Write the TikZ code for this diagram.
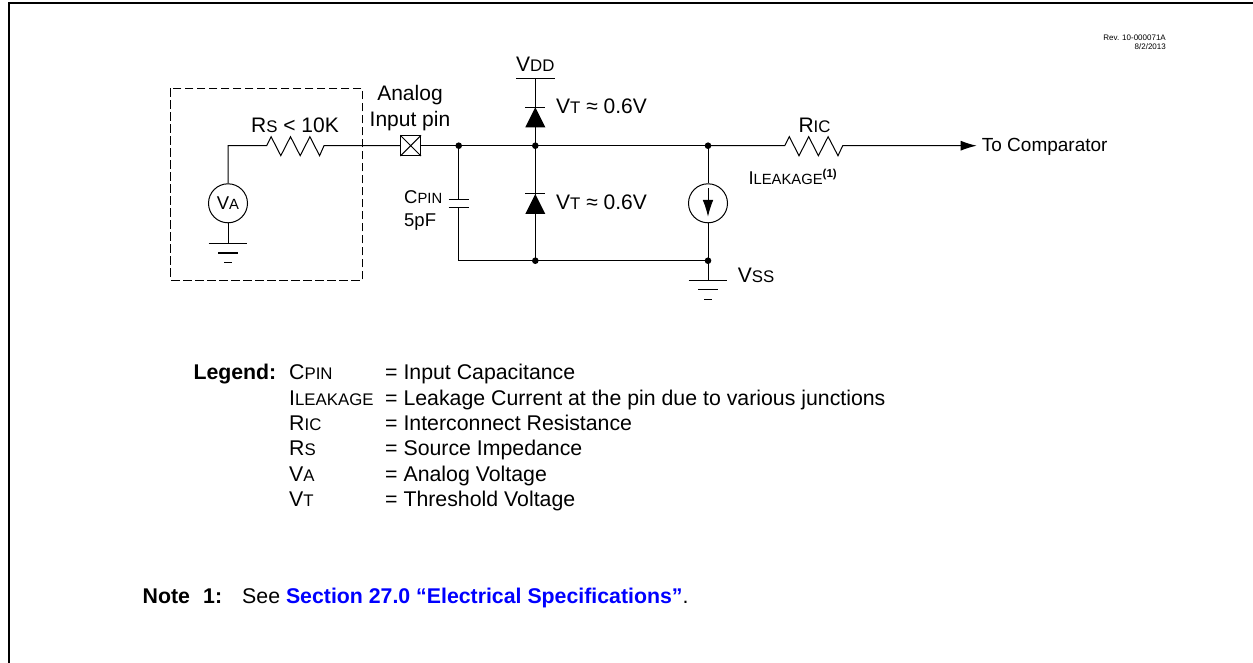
\documentclass[tikz,border=0pt]{standalone}
\usepackage{fontspec}
\setmainfont{Liberation Sans}
\usetikzlibrary{arrows.meta}
\newcommand{\lo}[1]{{\fontsize{16.8}{16.8}\selectfont #1}}
\newcommand{\lom}[1]{{\fontsize{14.8}{14.8}\selectfont #1}}
\tikzset{
    txt/.style={inner sep=0pt,anchor=base west,font=\fontsize{21}{21}\selectfont},
    stxt/.style={inner sep=0pt,anchor=base west,font=\fontsize{18.5}{18.5}\selectfont},
    lgd/.style={inner sep=0pt,anchor=base west,font=\fontsize{21.3}{21.3}\selectfont},
    wire/.style={line width=1pt},
    source/.style={circle,draw,wire,minimum size=39pt,inner sep=0pt,font=\fontsize{18.5}{18.5}\selectfont}
}
\begin{document}
\begin{tikzpicture}[x=1pt,y=-1pt]
    \useasboundingbox (0,0) rectangle (1253,663);
    \draw[line width=2pt] (9,663) -- (9,3) -- (1253,3);
    \node[inner sep=0pt,anchor=base east,font=\fontsize{8}{8}\selectfont] (rev) at (1166,40.7) {Rev. 10-000071A};
    \node[inner sep=0pt,anchor=base east,font=\fontsize{8}{8}\selectfont] (date) at (1166,50) {8/2/2013};

    % source side
    \draw[wire,dash pattern=on 8.5pt off 3.5pt] (170.7,88.3) rectangle (362.3,280);
    \node[source] (va) at (228,203.3) {V\lom{A}};
    \node[draw,wire,minimum size=19.7pt,inner sep=0pt] (pin) at (410.7,145.7) {};
    \draw[wire] (pin.north west) -- (pin.south east) (pin.north east) -- (pin.south west);
    \coordinate (bend) at (228,145.7);
    \coordinate (rsa) at (266.7,145.7);
    \coordinate (rsb) at (324,145.7);
    \draw[wire] (va) -- (bend) -- (rsa) -- ++(4.4,-9) -- ++(9.7,19) -- ++(9.7,-19) -- ++(9.7,19) -- ++(9.7,-19) -- ++(9.7,19) -- (rsb) -- (pin);
    \node[txt] (rslabel) at (251,133) {R\lo{S} < 10K};
    \node[txt,anchor=base] (analog) at (410,101) {Analog};
    \node[txt,anchor=base] (inputpin) at (410,127) {Input pin};

    % junctions
    \coordinate (ncap) at (458.7,145.7);
    \coordinate (ndio) at (535.3,145.7);
    \coordinate (nsrc) at (708,145.7);
    \coordinate (gcap) at (458.7,260.7);
    \coordinate (gdio) at (535.3,260.7);
    \coordinate (gsrc) at (708,260.7);
    \coordinate (vdd) at (535.3,78.7);
    \coordinate (gnda) at (228,243.3);
    \coordinate (gndb) at (708,280);
    \coordinate (capa) at (458.7,199.3);
    \coordinate (capb) at (458.7,207.3);
    \foreach \p in {ncap,ndio,nsrc,gdio,gsrc}
        \fill (\p) circle [radius=3.3pt];
    \draw[wire] (pin) -- (ncap) -- (ndio) -- (nsrc);

    % cap
    \draw[wire] (ncap) -- (capa) (capb) -- (gcap) -- (gsrc);
    \draw[wire] (448.7,199.3) -- (468.7,199.3) (448.7,207.3) -- (468.7,207.3);
    \node[stxt] (cpin) at (404,204) {C\lom{PIN}};
    \node[stxt] (cval) at (404,226) {5pF};

    % diodes
    \draw[wire] (vdd) -- (gdio);
    \draw[wire] (516,78.7) -- (554.7,78.7);
    \foreach \y in {107.3,194} {
        \fill (535.3,\y) -- ++(10,20) -- ++(-20,0) -- cycle;
        \draw[wire] (525.3,\y) -- (545.3,\y);
    }
    \node[txt] (vddlabel) at (516,71.7) {V\lo{DD}};
    \node[txt] (vtup) at (556,114) {V\lo{T} ≈ 0.6V};
    \node[txt] (vtdown) at (556,210) {V\lo{T} ≈ 0.6V};

    % current source and grounds
    \node[source] (ileak) at (708,203.3) {};
    \draw[wire] (nsrc) -- (ileak) (ileak) -- (gndb);
    \draw[wire,-{Latex[length=16.7pt,width=10.6pt]}] (708,188.3) -- (708,216.7);
    \foreach \g in {gnda,gndb} {
        \draw[wire] ([xshift=-19.3pt]\g) -- ([xshift=19.3pt]\g);
        \draw[wire] ([xshift=-10pt,yshift=-9.7pt]\g) -- ([xshift=10pt,yshift=-9.7pt]\g);
        \draw[wire] ([xshift=-3.7pt,yshift=-19pt]\g) -- ([xshift=3.7pt,yshift=-19pt]\g);
    }
    \draw[wire] (va) -- (gnda);
    \node[txt] (vss) at (737.7,282.7) {V\lo{SS}};

    % output
    \coordinate (rica) at (784.7,145.7);
    \coordinate (ricb) at (842.7,145.7);
    \coordinate (out) at (976.7,145.7);
    \draw[wire,-{Latex[length=16pt,width=10pt]}] (nsrc) -- (rica) -- ++(4.6,-9) -- ++(9.7,19) -- ++(9.7,-19) -- ++(9.7,19) -- ++(9.7,-19) -- ++(9.9,19) -- (ricb) -- (out);
    \node[txt] (ric) at (798.3,132.7) {R\lo{IC}};
    \node[stxt] (ileakage) at (748.3,184.3) {I\lom{LEAKAGE}\raisebox{7pt}{\fontsize{11.5}{11.5}\selectfont\bfseries (1)}};
    \node[stxt,font=\fontsize{19}{19}\selectfont] (tocomp) at (981.7,151.7) {To Comparator};

    % legend
    \node[lgd,font=\fontsize{21.3}{21.3}\selectfont\bfseries] (legend) at (193.3,379) {Legend:};
    \foreach \sym/\desc/\y in {C\lo{PIN}/Input Capacitance/379,
                               I\lo{LEAKAGE}/Leakage Current at the pin due to various junctions/405,
                               R\lo{IC}/Interconnect Resistance/430,
                               R\lo{S}/Source Impedance/455.7,
                               V\lo{A}/Analog Voltage/481.7,
                               V\lo{T}/Threshold Voltage/506.7} {
        \node[lgd] (sym\y) at (289,\y) {\sym};
        \node[lgd] (desc\y) at (385,\y) {= \desc};
    }

    % note
    \node[lgd,font=\fontsize{21.3}{21.3}\selectfont\bfseries] (note) at (142.5,603) {Note};
    \node[lgd,font=\fontsize{21.3}{21.3}\selectfont\bfseries] (notenum) at (203,603) {1:};
    \node[lgd] (notetext) at (242,603) {See \textbf{\textcolor{blue}{Section 27.0 “Electrical Specifications”}}.};
\end{tikzpicture}
\end{document}
